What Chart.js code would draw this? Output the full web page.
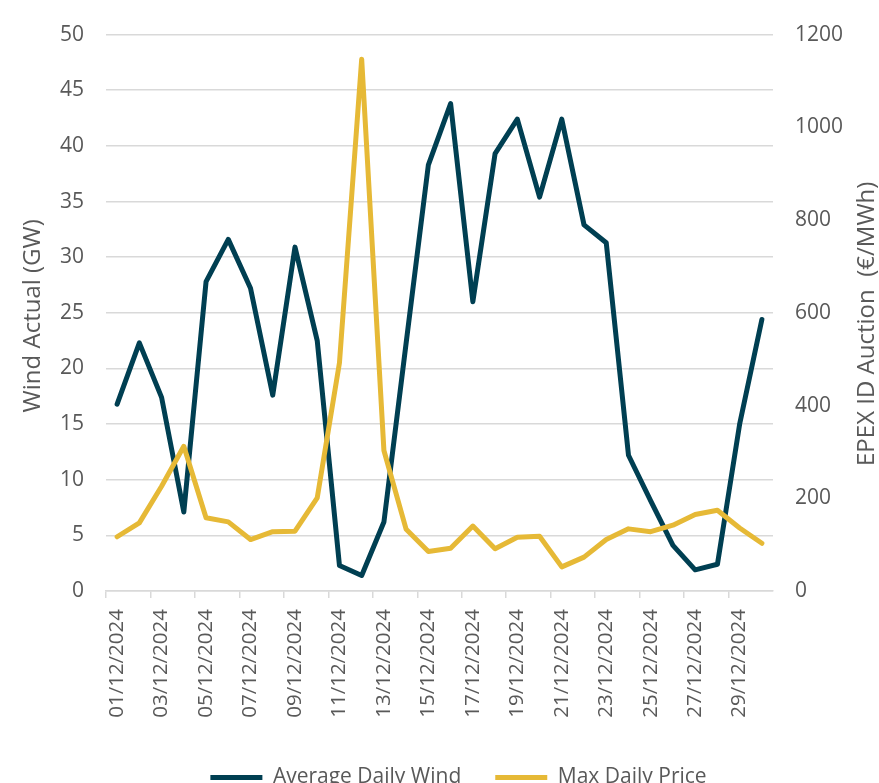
<!DOCTYPE html>
<html>
<head>
<meta charset="utf-8">
<script src="https://cdn.jsdelivr.net/npm/chart.js@4.4.1/dist/chart.umd.min.js"></script>
<style>
  html, body { margin: 0; padding: 0; background: #ffffff; overflow: hidden; }
  #wrap { width: 879px; height: 783px; overflow: hidden; position: relative; }
  canvas { display: block; }
</style>
</head>
<body>
<div id="wrap"><canvas id="c" width="879" height="798"></canvas></div>
<script>
const dates = [
  '01/12/2024','02/12/2024','03/12/2024','04/12/2024','05/12/2024','06/12/2024',
  '07/12/2024','08/12/2024','09/12/2024','10/12/2024','11/12/2024','12/12/2024',
  '13/12/2024','14/12/2024','15/12/2024','16/12/2024','17/12/2024','18/12/2024',
  '19/12/2024','20/12/2024','21/12/2024','22/12/2024','23/12/2024','24/12/2024',
  '25/12/2024','26/12/2024','27/12/2024','28/12/2024','29/12/2024','30/12/2024'
];
const averageDailyWind = [16.8, 22.3, 17.4, 7.1, 27.8, 31.6, 27.2, 17.6, 30.9, 22.5,
  2.3, 1.4, 6.2, 22.3, 38.3, 43.8, 26.0, 39.3, 42.4, 35.4,
  42.4, 32.9, 31.3, 12.2, 8.1, 4.1, 1.9, 2.4, 15.0, 24.4];
const maxDailyPrice = [117, 147, 226, 312, 158, 149, 111, 128, 129, 201,
  492, 1147, 303, 133, 85, 92, 140, 91, 116, 118,
  52, 73, 111, 134, 128, 142, 165, 174, 136, 103];
const seriesNames = ['Average Daily Wind', 'Max Daily Price'];
const leftTitle = 'Wind Actual (GW)';
const rightTitle = 'EPEX ID Auction  (€/MWh)';

const WIND = '#003f52';
const PRICE = '#e6b936';
const GRID = '#d9d9d9';
const TXT = '#595959';
const FONT = "'Open Sans', 'Liberation Sans', sans-serif";

const titlePlugin = {
  id: 'axisTitles',
  afterDraw(chart) {
    const ctx = chart.ctx;
    const mid = (chart.chartArea.top + chart.chartArea.bottom) / 2;
    ctx.save();
    ctx.fillStyle = TXT;
    ctx.font = "24px " + FONT;
    ctx.textAlign = 'center';
    ctx.textBaseline = 'middle';
    ctx.translate(33, mid + 3);
    ctx.rotate(-Math.PI / 2);
    ctx.fillText(leftTitle, 0, 0);
    ctx.restore();
    ctx.save();
    ctx.fillStyle = TXT;
    ctx.font = "24px " + FONT;
    ctx.textAlign = 'center';
    ctx.textBaseline = 'middle';
    ctx.translate(867, mid + 11);
    ctx.rotate(-Math.PI / 2);
    ctx.fillText(rightTitle, 0, 0);
    ctx.restore();
  }
};

new Chart(document.getElementById('c'), {
  type: 'line',
  data: {
    labels: dates,
    datasets: [
      {
        label: seriesNames[0],
        data: averageDailyWind,
        yAxisID: 'y',
        borderColor: WIND,
        backgroundColor: WIND,
        borderWidth: 5,
        pointRadius: 0,
        tension: 0,
        borderJoinStyle: 'round',
        borderCapStyle: 'round',
        order: 1
      },
      {
        label: seriesNames[1],
        data: maxDailyPrice,
        yAxisID: 'y1',
        borderColor: PRICE,
        backgroundColor: PRICE,
        borderWidth: 5,
        pointRadius: 0,
        tension: 0,
        borderJoinStyle: 'round',
        borderCapStyle: 'round',
        order: 0
      }
    ]
  },
  options: {
    responsive: false,
    animation: false,
    devicePixelRatio: 1,
    layout: { padding: { top: 33, left: 38, right: 0, bottom: 0 } },
    plugins: {
      tooltip: { enabled: false },
      legend: {
        position: 'bottom',
        align: 'center',
        labels: {
          usePointStyle: true,
          pointStyle: 'line',
          pointStyleWidth: 52,
          padding: 34,
          color: TXT,
          font: { family: FONT, size: 21 },
          sort: (a, b) => a.datasetIndex - b.datasetIndex
        }
      }
    },
    scales: {
      x: {
        type: 'category',
        offset: true,
        grid: {
          offset: true,
          drawOnChartArea: false,
          drawTicks: true,
          tickLength: 7,
          lineWidth: 1.5,
          color: (ctx) => (ctx.index % 2 === 0 ? GRID : 'rgba(0,0,0,0)')
        },
        border: { display: true, color: GRID, width: 1.5 },
        ticks: {
          autoSkip: false,
          maxRotation: 90,
          minRotation: 90,
          padding: 11,
          color: TXT,
          font: { family: FONT, size: 20.5 },
          callback: function (value, index) {
            return index % 2 === 0 ? this.getLabelForValue(value) : '';
          }
        },
        afterFit: (scale) => { scale.height = 142; }
      },
      y: {
        position: 'left',
        min: 0,
        max: 50,
        grid: { color: GRID, lineWidth: 1.5, drawTicks: false },
        border: { display: false },
        ticks: {
          stepSize: 5,
          padding: 22,
          color: TXT,
          font: { family: FONT, size: 21 },
          callback: (v) => String(v)
        },
        afterFit: (scale) => { scale.width = 68; }
      },
      y1: {
        position: 'right',
        min: 0,
        max: 1200,
        grid: { drawOnChartArea: false, drawTicks: false },
        border: { display: false },
        ticks: {
          stepSize: 200,
          padding: 22,
          color: TXT,
          font: { family: FONT, size: 21 },
          callback: (v) => String(v)
        },
        afterFit: (scale) => { scale.width = 106; }
      }
    }
  },
  plugins: [titlePlugin]
});
</script>
</body>
</html>
